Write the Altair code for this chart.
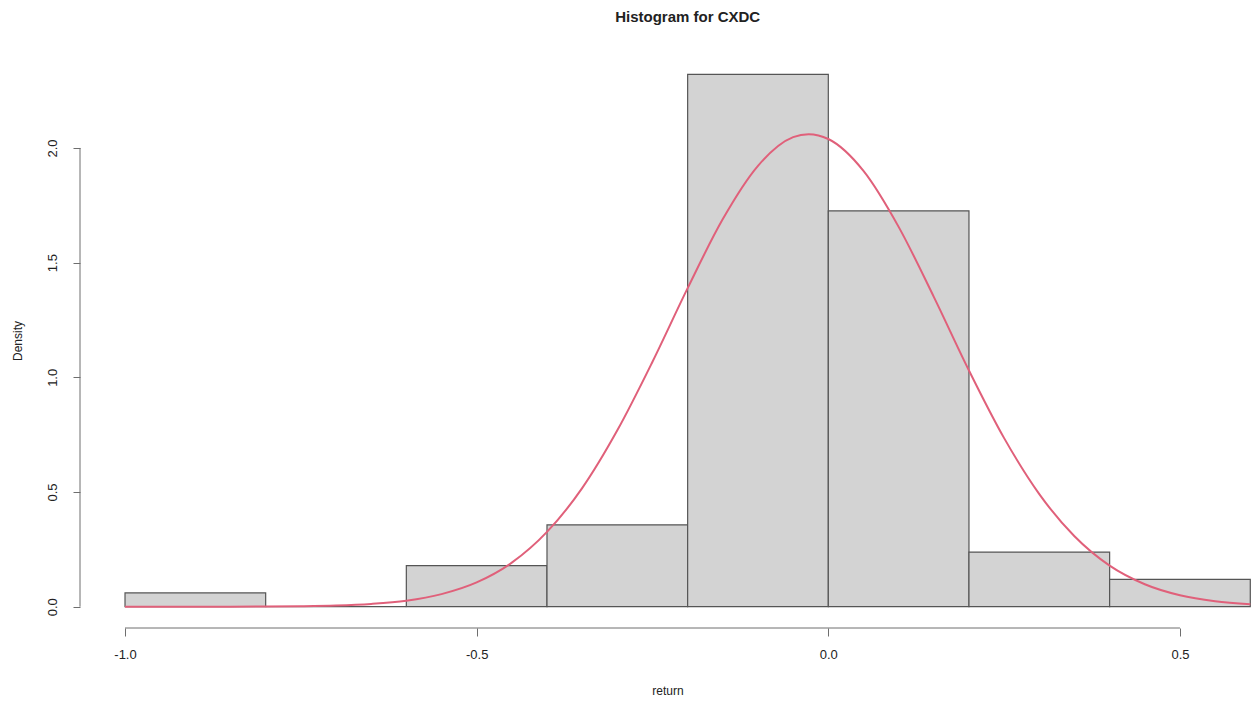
import altair as alt
import pandas as pd

# Histogram bins (density scale)
bin_start = [-1.0, -0.8, -0.6, -0.4, -0.2, 0.0, 0.2, 0.4]
bin_end = [-0.8, -0.6, -0.4, -0.2, 0.0, 0.2, 0.4, 0.6]
density = [0.060, 0.0, 0.179, 0.357, 2.321, 1.726, 0.238, 0.119]

# Fitted density curve
curve_x = [-1.0, -0.95, -0.9, -0.85, -0.8, -0.75, -0.7, -0.65, -0.6, -0.55, -0.5,
           -0.45, -0.4, -0.35, -0.3, -0.25, -0.2, -0.15, -0.1, -0.05, -0.028,
           0.0, 0.05, 0.1, 0.15, 0.2, 0.25, 0.3, 0.35, 0.4, 0.45, 0.5, 0.55, 0.6]
curve_y = [0.0, 0.0, 0.0001, 0.0003, 0.0007, 0.002, 0.005, 0.012, 0.026, 0.055, 0.106,
           0.192, 0.326, 0.517, 0.769, 1.068, 1.389, 1.690, 1.922, 2.047, 2.060,
           2.039, 1.900, 1.656, 1.351, 1.030, 0.735, 0.491, 0.307, 0.179, 0.098, 0.050, 0.024, 0.011]

x_ticks = [-1.0, -0.5, 0.0, 0.5]
y_ticks = [0.0, 0.5, 1.0, 1.5, 2.0]

title_text = "Histogram for CXDC"
x_title = "return"
y_title = "Density"

FONT = "Liberation Sans"
TXT = "#222222"
AXC = "#6e6e6e"
LABEL_EXPR = "(datum.value < 0 ? '-' : '') + format(abs(datum.value), '.1f')"

bars_df = pd.DataFrame({"start": bin_start, "end": bin_end, "density": density})
curve_df = pd.DataFrame({"x": curve_x, "y": curve_y})

xscale = alt.Scale(domain=[-1.064, 0.6067], nice=False, zero=False)
yscale = alt.Scale(domain=[-0.0928, 2.414], nice=False, zero=False)

xaxis = alt.Axis(values=x_ticks, labelExpr=LABEL_EXPR, domain=False, grid=False,
                 tickSize=8, tickColor=AXC, tickWidth=1, labelFont=FONT, labelFontSize=13,
                 labelColor=TXT, labelPadding=12, labelFlush=False, title=x_title,
                 titleFont=FONT, titleFontSize=12, titleFontWeight="normal",
                 titleColor=TXT, titlePadding=24)
yaxis = alt.Axis(values=y_ticks, labelExpr=LABEL_EXPR, domain=False, grid=False,
                 tickSize=7, tickColor=AXC, tickWidth=1, labelFont=FONT, labelFontSize=13,
                 labelColor=TXT, labelAngle=270, labelAlign="center", labelBaseline="bottom",
                 labelPadding=14, labelFlush=False, title=y_title,
                 titleFont=FONT, titleFontSize=12, titleFontWeight="normal",
                 titleColor=TXT, titlePadding=22)

bars = alt.Chart(bars_df).mark_bar(
    fill="#d3d3d3", stroke="#555555", strokeWidth=1.2
).encode(
    x=alt.X("start:Q", scale=xscale, axis=xaxis),
    x2="end:Q",
    y=alt.Y("density:Q", scale=yscale, axis=yaxis),
    y2=alt.datum(0),
)

curve = alt.Chart(curve_df).mark_line(
    color="#e0607a", strokeWidth=2, interpolate="monotone"
).encode(
    x=alt.X("x:Q", scale=xscale),
    y=alt.Y("y:Q", scale=yscale),
)

ticks_df = pd.DataFrame({"x0": [x_ticks[0]], "x1": [x_ticks[-1]], "y0": [y_ticks[0]], "y1": [y_ticks[-1]]})

x_line = alt.Chart(ticks_df).mark_rule(color=AXC, strokeWidth=1).encode(
    x=alt.X("x0:Q", scale=xscale), x2="x1:Q", y=alt.value(575)
)
y_line = alt.Chart(ticks_df).mark_rule(color=AXC, strokeWidth=1).encode(
    y=alt.Y("y0:Q", scale=yscale), y2="y1:Q", x=alt.value(0)
)

title_df = pd.DataFrame({"t": [title_text], "cx": [-0.2]})
title = alt.Chart(title_df).mark_text(
    font=FONT, fontSize=15, fontWeight="bold", color=TXT, baseline="middle", align="center"
).encode(
    x=alt.X("cx:Q", scale=xscale), y=alt.value(-36), text="t:N"
)

chart = alt.layer(bars, curve, x_line, y_line, title).properties(
    width=1175, height=575,
    background="white",
    autosize=alt.AutoSizeParams(type="none"),
    padding={"left": 80, "top": 53, "right": 0, "bottom": 70},
).configure_view(strokeWidth=0, stroke=None)

chart.save("out.html", embed_options={"renderer": "svg", "actions": False})
